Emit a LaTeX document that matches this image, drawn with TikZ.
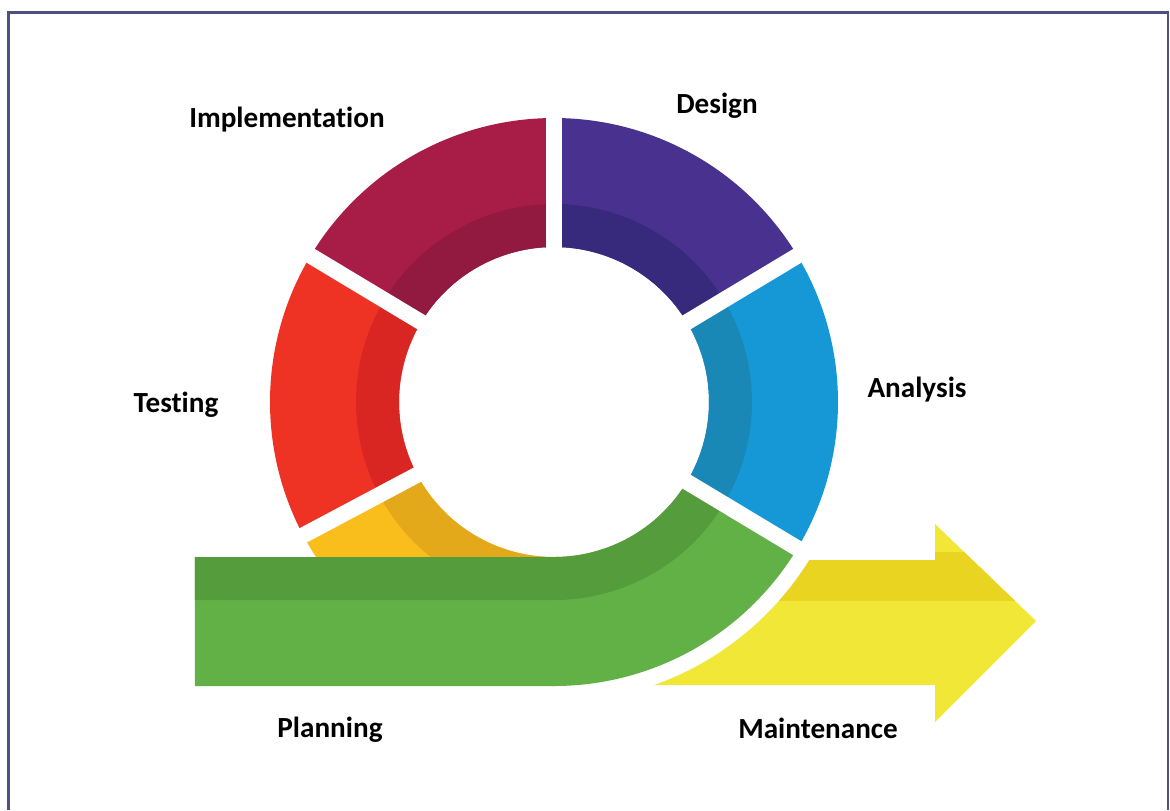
\documentclass[tikz,border=0pt]{standalone}
\usepackage{fontspec}
\setmainfont{Carlito}[Ligatures=NoCommon]
\definecolor{framecol}{HTML}{4B5283}
\definecolor{impl1}{HTML}{A81C48}\definecolor{impl2}{HTML}{921A41}
\definecolor{design1}{HTML}{48318F}\definecolor{design2}{HTML}{372A7D}
\definecolor{test1}{HTML}{EE3325}\definecolor{test2}{HTML}{DA2622}
\definecolor{anal1}{HTML}{1598D5}\definecolor{anal2}{HTML}{1A88B6}
\definecolor{plan1}{HTML}{F9BE1C}\definecolor{plan2}{HTML}{E4A81B}
\definecolor{green1}{HTML}{62B146}\definecolor{green2}{HTML}{559C3C}
\definecolor{arr1}{HTML}{F0E737}\definecolor{arr2}{HTML}{E9D422}
\begin{document}
\begin{tikzpicture}[lbl/.style={anchor=base,font=\fontsize{8.3}{10}\selectfont\bfseries}]
\def\RIN{1.55};\def\RMID{1.98};\def\ROUT{2.84};
\def\ARROW{(0.5,-1.58)--(3.81,-1.58)--(3.81,-1.22)--(4.82,-2.19)--(3.81,-3.20)--(3.81,-2.83)--(0.5,-2.83)--cycle}
\useasboundingbox (-5.54,-4.08) rectangle (6.16,4.02);
\fill[white] (-5.54,-4.08) rectangle (6.16,4.02);
\draw[color=framecol,line width=0.7pt] (-5.455,-4.08)--(-5.455,3.895)--(6.14,3.895)--(6.14,-4.08);
\fill[arr1] \ARROW;
\begin{scope}
\clip (0,-1.5) rectangle (5,-1.98);
\fill[arr2] \ARROW;
\end{scope}
\fill[white] (0,0) circle (3.0);
\foreach \a/\b/\col in {208/270/plan,149/208/test,90/149/impl,31/90/design,-31/31/anal}{
\fill[\col1] (\a:\RIN) arc[start angle=\a,end angle=\b,radius=\RIN]--(\b:\ROUT) arc[start angle=\b,end angle=\a,radius=\ROUT]--cycle;
\fill[\col2] (\a:\RIN) arc[start angle=\a,end angle=\b,radius=\RIN]--(\b:\RMID) arc[start angle=\b,end angle=\a,radius=\RMID]--cycle;
}
\fill[green1] (-3.59,-\RIN)--(0,-\RIN) arc[start angle=270,end angle=329,radius=\RIN]--(329:\ROUT) arc[start angle=329,end angle=270,radius=\ROUT]--(-3.59,-\ROUT)--cycle;
\fill[green2] (-3.59,-\RIN)--(0,-\RIN) arc[start angle=270,end angle=329,radius=\RIN]--(329:\RMID) arc[start angle=329,end angle=270,radius=\RMID]--(-3.59,-\RMID)--cycle;
\foreach \g in {31,90,149,208,329}
\draw[white,line width=0.16cm] (\g:1.4)--(\g:2.95);
\node[lbl] (impl) at (-2.67,2.75) {Implementation};
\node[lbl] (design) at (1.63,2.89) {Design};
\node[lbl] (test) at (-3.78,-0.10) {Testing};
\node[lbl] (anal) at (3.63,0.05) {Analysis};
\node[lbl] (plan) at (-2.24,-3.35) {Planning};
\node[lbl] (maint) at (2.64,-3.36) {Maintenance};
\end{tikzpicture}
\end{document}
